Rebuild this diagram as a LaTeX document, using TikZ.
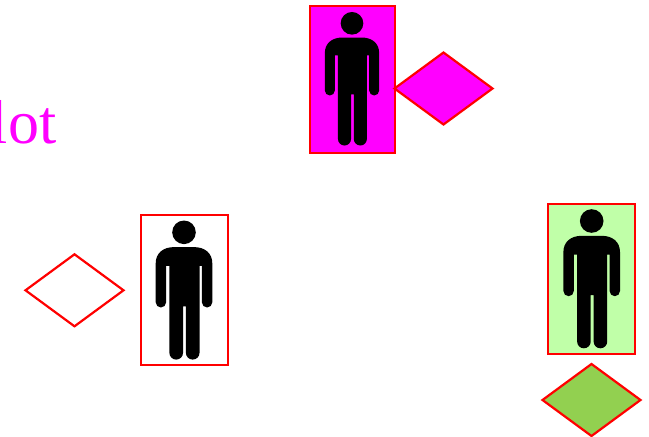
\documentclass[tikz,border=0pt]{standalone}
\usepackage{fontspec}
\setmainfont{Liberation Serif}
\usetikzlibrary{shapes.geometric}
\definecolor{pureMagenta}{RGB}{255,0,255}
\definecolor{pureRed}{RGB}{255,0,0}
\definecolor{paleGreen}{HTML}{C0FFA8}
\definecolor{midGreen}{HTML}{92D050}
\tikzset{
  personbox/.style={draw=pureRed,rectangle,inner sep=0pt,outer sep=0pt,line width=2pt},
  choice/.style={draw=pureRed,diamond,inner sep=0pt,outer sep=0pt,line width=2.2pt,minimum width=98pt,minimum height=72pt},
  person/.pic={
    \fill[black] (0,0) circle (11.8);
    \fill[black]
      (-10,14.8) -- (10,14.8)
      .. controls (21,14.8) and (28.3,21) .. (28.3,31)
      -- (28.3,70) arc[start angle=0,end angle=180,radius=5.2]
      -- (17.9,33.5) -- (15.5,33.5)
      -- (15.5,120.5) arc[start angle=0,end angle=180,radius=6.8]
      -- (1.9,74) -- (-1,74)
      -- (-1,120.5) arc[start angle=0,end angle=180,radius=6.8]
      -- (-14.6,33.5) -- (-17.9,33.5)
      -- (-17.9,70) arc[start angle=0,end angle=180,radius=5.2]
      -- (-28.3,31)
      .. controls (-28.3,21) and (-21,14.8) .. (-10,14.8) -- cycle;
  }
}
\begin{document}
\begin{tikzpicture}[x=1pt,y=-1pt]
  \useasboundingbox (0,0) rectangle (649,437);
  \clip (0,0) rectangle (649,437);
  \node[anchor=base east,text=pureMagenta,font=\fontsize{62}{62}\selectfont,inner sep=0pt] (title) at (56.5,143) {lot};

  \node[personbox,fill=pureMagenta,minimum width=85pt,minimum height=147pt] (boxA) at (352.5,79.5) {};
  \pic[scale=0.96] at (352,23.3) {person};
  \node[choice,fill=pureMagenta] (diaA) at (443.5,88.5) {};

  \node[personbox,fill=white,minimum width=87pt,minimum height=150pt] (boxB) at (184.5,290.3) {};
  \pic at (184,232.3) {person};
  \node[choice,fill=white] (diaB) at (74.5,290.3) {};

  \node[personbox,fill=paleGreen,minimum width=87pt,minimum height=150pt] (boxC) at (591.7,279) {};
  \pic at (591.7,221) {person};
  \node[choice,fill=midGreen] (diaC) at (591.5,400) {};
\end{tikzpicture}
\end{document}
